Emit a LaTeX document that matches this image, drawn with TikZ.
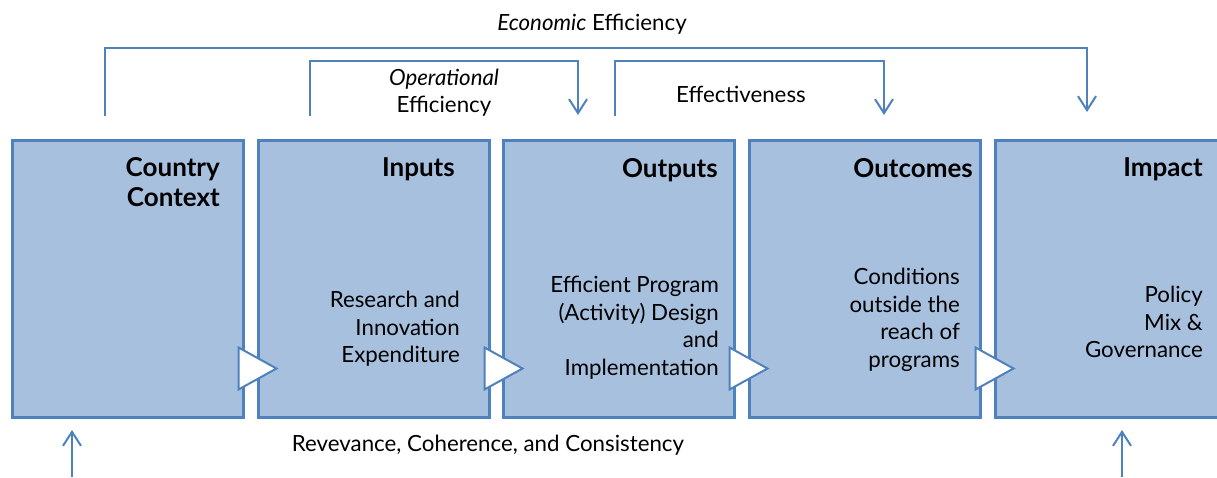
\documentclass[tikz,border=0pt]{standalone}
\usepackage{fontspec}
\setmainfont{Lato}
\usetikzlibrary{
  arrows.meta,
  positioning,
}
\definecolor{stageline}{HTML}{4F81BD}
\definecolor{stagefill}{HTML}{A7C0DE}

\begin{document}
\begin{tikzpicture}[
  x=1pt, y=-1pt,
  stage/.style={draw=stageline, fill=stagefill, line width=2.5pt, anchor=north west,
    minimum width=231pt, minimum height=277pt, inner sep=0pt},
  stagetitle/.style={font=\fontsize{26}{30}\selectfont\bfseries, align=right,
    inner sep=0pt, anchor=north east},
  stagebody/.style={font=\fontsize{22.3}{27.6}\selectfont, align=right,
    inner sep=0pt, anchor=north east},
  flowtext/.style={font=\fontsize{22.3}{27}\selectfont, align=center, inner sep=0pt},
  link/.style={draw=stageline, line width=2pt,
    -{Straight Barb[length=14pt,width=18pt]}},
  chevron/.style={draw=stageline, fill=white, line width=2pt, line join=miter},
]
\useasboundingbox (0,0) rectangle (1217,477);

% the five stages
\node[stage] (ctx)  at (11,139)  {};
\node[stage] (inp)  at (257,139) {};
\node[stage] (outp) at (502,139) {};
\node[stage] (outc) at (748,139) {};
\node[stage] (imp)  at (994,139) {};

\foreach \a in {ctx,inp,outp,outc} {
  \filldraw[chevron] ([shift={(-6,-29)}]\a.south east) -- ++(0,-42) -- ++(38,21) -- cycle;
}

\node[stagetitle] (ctx-t)  at (220,157) {Country\\Context};
\node[stagetitle] (inp-t)  at (455,157) {Inputs};
\node[stagetitle] (outp-t) at (718,158) {Outputs};
\node[stagetitle] (outc-t) at (973,158) {Outcomes};
\node[stagetitle] (imp-t)  at (1203,157) {Impact};

\node[stagebody] (inp-b)  at (460,291)  {Research and\\Innovation\\Expenditure};
\node[stagebody] (outp-b) at (719,276)  {Efficient Program\\(Activity) Design\\and\\Implementation};
\node[stagebody] (outc-b) at (960,268)  {Conditions\\outside the\\reach of\\programs};
\node[stagebody] (imp-b)  at (1203,286) {Policy\\Mix \&\\Governance};

% efficiency brackets
\coordinate (econ-s) at (105,116);
\coordinate (econ-e) at (1087,112);
\coordinate (oper-s) at (309.5,116);
\coordinate (oper-e) at (578,115);
\coordinate (effe-s) at (614.5,116);
\coordinate (effe-e) at (884,115);
\draw[link] (econ-s) -- ++(0,-68) -| (econ-e);
\draw[link] (oper-s) -- ++(0,-55) -| (oper-e);
\draw[link] (effe-s) -- ++(0,-55) -| (effe-e);

\node[flowtext] (econ-t) at (592,24) {\textit{Economic} Efficiency};
\node[flowtext] (oper-t) at (444,93) {\textit{Operational}\\Efficiency};
\node[flowtext] (effe-t) at (741,94) {Effectiveness};

% relevance
\coordinate (ctx-foot) at (72,477);
\coordinate (ctx-head) at (72,430);
\coordinate (imp-foot) at (1122,477);
\coordinate (imp-head) at (1122,430);
\draw[link] (ctx-foot) -- (ctx-head);
\draw[link] (imp-foot) -- (imp-head);
\node[flowtext] (rel-t) at (488,445) {Revevance, Coherence, and Consistency};
\end{tikzpicture}
\end{document}
